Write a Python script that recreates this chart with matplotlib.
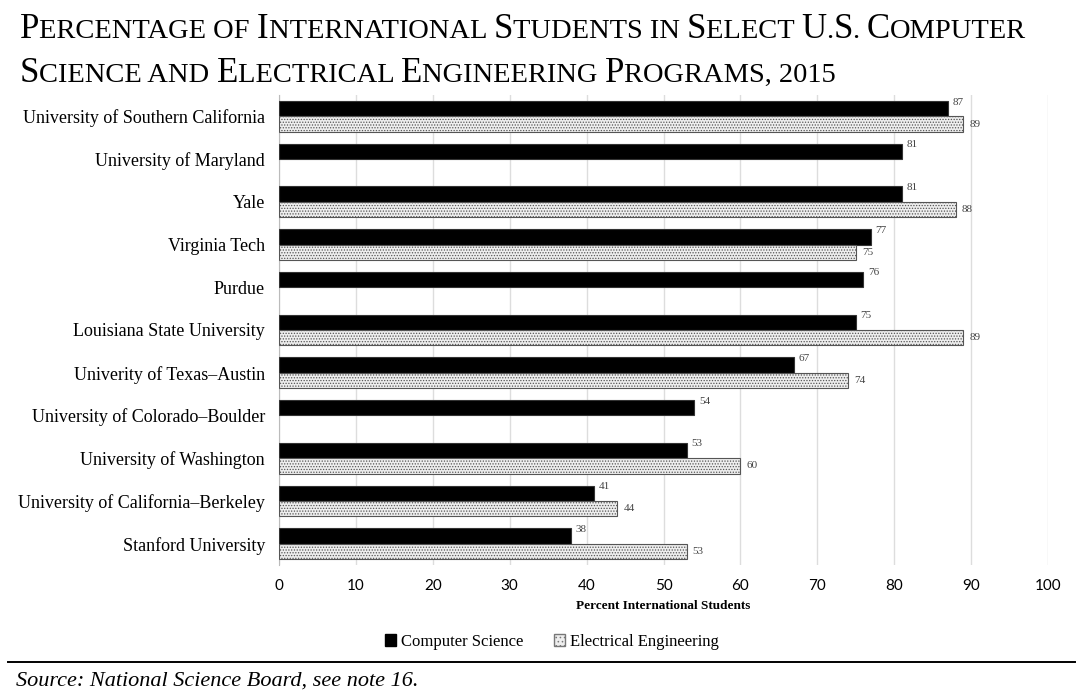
import numpy as np
import matplotlib
matplotlib.use("Agg")
import matplotlib.pyplot as plt
from matplotlib.patches import Patch

# data
schools = ["University of Southern California", "University of Maryland", "Yale",
           "Virginia Tech", "Purdue", "Louisiana State University",
           "Univerity of Texas–Austin", "University of Colorado–Boulder",
           "University of Washington", "University of California–Berkeley",
           "Stanford University"]
cs = [87, 81, 81, 77, 76, 75, 67, 54, 53, 41, 38]
ee = [89, None, 88, 75, None, 89, 74, None, 60, 44, 53]
xticks = list(range(0, 101, 10))

plt.rcParams['hatch.color'] = '#8a8a8a'
plt.rcParams['hatch.linewidth'] = 0.6
serif = ['Liberation Serif', 'DejaVu Serif']

fig = plt.figure(figsize=(10.8, 6.98), dpi=100)
ax = fig.add_axes([279/1080, 1 - 565/698, (1048-279)/1080, 470/698])

y = np.arange(len(schools))
h = 0.36
ax.barh(y - h/2, cs, height=h, color='black', edgecolor='#333333', linewidth=0.8, zorder=3)
ee_vals = [v if v is not None else 0 for v in ee]
ee_bars = ax.barh(y + h/2, ee_vals, height=h, color='#eeeeee', edgecolor='#555555',
                  linewidth=0.8, hatch='......', zorder=3)
for b, v in zip(ee_bars, ee):
    if v is None:
        b.set_visible(False)

for i, v in enumerate(cs):
    ax.text(v + 0.6, y[i] - h/2 - 0.05, str(v), fontsize=8, color='#444444',
            family=serif, va='bottom', ha='left')
for i, v in enumerate(ee):
    if v is not None:
        ax.text(v + 0.8, y[i] + h/2, str(v), fontsize=8, color='#444444',
                family=serif, va='center', ha='left')

ax.set_ylim(len(schools) - 0.5, -0.5)
ax.set_xlim(0, 100)
ax.set_xticks(xticks)
ax.set_xticklabels([str(t) for t in xticks], family=['Lato', 'DejaVu Sans'], fontsize=11)
ax.set_yticks(y)
ax.set_yticklabels(schools, family=serif, fontsize=13)
ax.tick_params(axis='y', length=0, pad=10)
ax.tick_params(axis='x', length=0, pad=10)
ax.grid(axis='x', color='#dddddd', linewidth=1, zorder=0)
for s in ['top', 'right', 'bottom']:
    ax.spines[s].set_visible(False)
ax.spines['left'].set_color('#bbbbbb')
ax.set_xlabel('Percent International Students', family=serif, fontsize=9.5,
              fontweight='bold', labelpad=5)

handles = [Patch(facecolor='black', edgecolor='black', label='Computer Science'),
           Patch(facecolor='#eeeeee', edgecolor='#777777', hatch='....', label='Electrical Engineering')]
fig.legend(handles=handles, loc='center', bbox_to_anchor=(552/1080, 1 - 642/698), ncol=2,
           frameon=False, prop={'family': serif, 'size': 12}, handlelength=0.7,
           handleheight=0.7, handletextpad=0.3, columnspacing=1.8)

# separator and source
fig.add_artist(plt.Line2D([8/1080, 1075/1080], [1 - 662/698, 1 - 662/698],
                          color='black', linewidth=1.4, transform=fig.transFigure))
fig.text(16/1080, 1 - 681/698, 'Source: National Science Board, see note 16.',
         family=serif, style='italic', fontsize=16, va='center', ha='left')

# small caps title
renderer = fig.canvas.get_renderer()


def small_caps(x, yy, text, big=25, small=20.5):
    cur = x
    i = 0
    while i < len(text):
        ch = text[i]
        upper = ch.isupper()
        j = i
        while j < len(text) and (text[j].isupper() == upper) and not (upper and j > i):
            j += 1
        chunk = text[i:j]
        size = big if upper else small
        t = fig.text(cur, yy, chunk.upper(), fontsize=size, family=serif,
                     ha='left', va='baseline', transform=None)
        bb = t.get_window_extent(renderer)
        cur = bb.x1 if chunk.strip() else cur + size * 0.35
        i = j


small_caps(20, 698 - 38, "Percentage of International Students in Select U.S. Computer")
small_caps(20, 698 - 82, "Science and Electrical Engineering Programs, 2015")

fig.savefig('out.png', dpi=100)
